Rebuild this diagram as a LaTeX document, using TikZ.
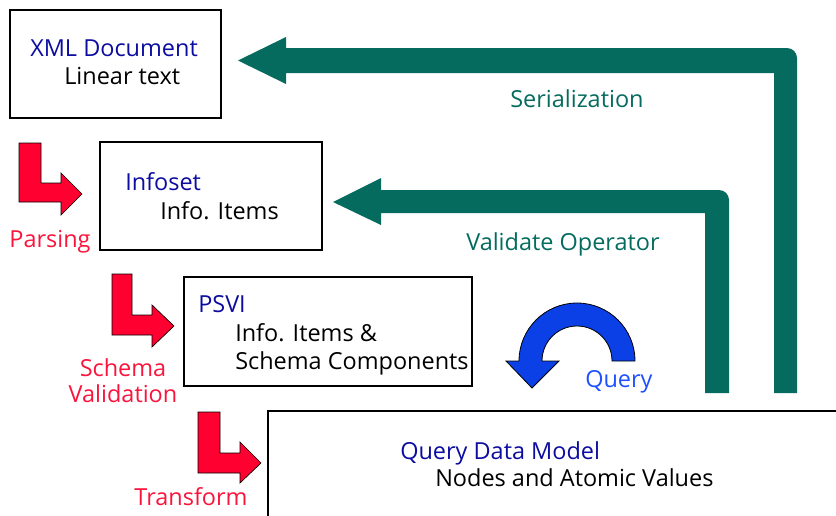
\documentclass[tikz,border=0pt]{standalone}
\usepackage{fontspec}
\setmainfont{Open Sans}
\definecolor{flowgreen}{RGB}{4,107,94}
\definecolor{steppink}{RGB}{255,0,48}
\definecolor{labelred}{RGB}{250,20,60}
\definecolor{titleblue}{RGB}{12,12,160}
\definecolor{loopblue}{RGB}{10,64,230}
\definecolor{querytext}{RGB}{30,80,255}
\tikzset{
  box/.style={draw=black, line width=1.1pt},
  greenflow/.style={fill=flowgreen, draw=none},
  redstep/.style={fill=steppink, draw=black, line width=0.5pt},
  txt/.style={anchor=base west, inner sep=0pt, font=\fontsize{17.6}{20}\selectfont},
  title/.style={txt, text=titleblue},
  body/.style={txt, text=black},
  steplabel/.style={anchor=base, inner sep=0pt, text=labelred, font=\fontsize{17.6}{20}\selectfont},
  flowlabel/.style={txt, text=flowgreen},
}
\begin{document}
\begin{tikzpicture}[x=0.75pt, y=-0.75pt]
\useasboundingbox (0,0) rectangle (836,515);

% document boxes
\draw[box] (10,10) rectangle (221,118);
\draw[box] (100,142) rectangle (322,250);
\draw[box] (184,277) rectangle (472,386);
\draw[box] (836,411) -- (268,411) -- (268,520);

% box contents
\node[title] (xml) at (30,56) {XML Document};
\node[body] (lin) at (64,84) {Linear text};
\node[title] (info) at (125,190) {Infoset};
\node[body] (items) at (160,219) {Info. Items};
\node[title] (psvi) at (198,312) {PSVI};
\node[body] (pitems) at (235,341) {Info. Items \&};
\node[body] (pcomp) at (235,369) {Schema Components};
\node[title] (qdm) at (400,459) {Query Data Model};
\node[body] (nav) at (435,486) {Nodes and Atomic Values};

% green return arrows
\fill[greenflow] (238,60.5) -- (286,37) -- (286,48) -- (787,48)
  arc[start angle=-90, end angle=0, radius=10]
  -- (797,393) -- (774,393) -- (774,73) -- (286,73) -- (286,84) -- cycle;
\fill[greenflow] (333,202) -- (381,178) -- (381,190) -- (719,190)
  arc[start angle=-90, end angle=0, radius=10]
  -- (729,393) -- (705,393) -- (705,213) -- (381,213) -- (381,225) -- cycle;
\node[flowlabel] (ser) at (510,107) {Serialization};
\node[flowlabel] (val) at (466,250) {Validate Operator};

% red processing steps
\draw[redstep] (19,143) -- (41,143) -- (41,183) -- (61,183) -- (61,173)
  -- (82,194) -- (61,215) -- (61,202) -- (19,202) -- cycle;
\draw[redstep] (112,274) -- (132,274) -- (132,315) -- (152,315) -- (152,305)
  -- (174,326) -- (152,347) -- (152,335) -- (112,335) -- cycle;
\draw[redstep] (198,412) -- (220,412) -- (220,453) -- (240,453) -- (240,442)
  -- (261,463) -- (240,483) -- (240,473) -- (198,473) -- cycle;
\node[steplabel] (parse) at (50,247) {Parsing};
\node[steplabel] (schema) at (123,376) {Schema};
\node[steplabel] (valid) at (123,402) {Validation};
\node[steplabel] (trans) at (191,505) {Transform};

% query loop
\draw[fill=loopblue, draw=black, line width=0.6pt] (635,361)
  arc[start angle=0, end angle=-180, radius=58]
  -- (506,361) -- (532,388) -- (559,361) -- (542,361)
  arc[start angle=-180, end angle=0, radius=35] -- cycle;
\node[txt, text=querytext] (query) at (585,387) {Query};
\end{tikzpicture}
\end{document}
